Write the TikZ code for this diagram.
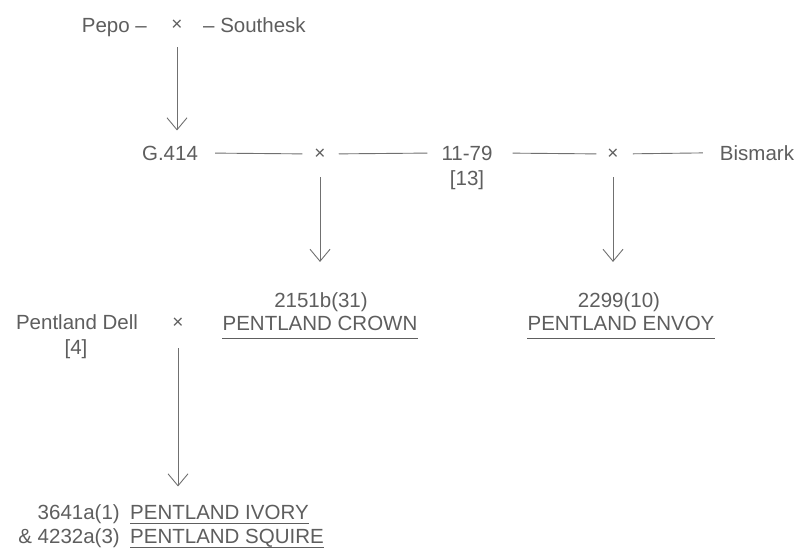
\documentclass[tikz,border=0pt]{standalone}
\usepackage{fontspec}
\setmainfont{Liberation Sans}
\usetikzlibrary{arrows.meta}
\definecolor{ink}{HTML}{5E5E5E}
\definecolor{rulec}{HTML}{707070}
\begin{document}
\begin{tikzpicture}[x=1pt,y=-1pt,
  lbl/.style={inner sep=0pt, text=ink, font=\fontsize{20.5}{24}\selectfont},
  cross/.style={inner sep=0pt, text=ink, font=\fontsize{19}{22}\selectfont},
  conn/.style={draw=rulec, line width=0.9pt},
  arr/.style={conn, -{Straight Barb[length=12pt,width=20pt,line width=0.9pt]}},
  uline/.style={draw=ink, line width=1pt}]
\useasboundingbox[fill=white] (0,0) rectangle (797,549);
% top cross
\node[lbl, anchor=base east] (pepo) at (147,32) {Pepo –};
\node[cross] (px) at (177,25) {×};
\node[lbl, anchor=base west] (south) at (203,32) {– Southesk};
% second row
\node[lbl, anchor=base] (g414) at (170,160) {G.414};
\node[cross] (x1) at (320,154) {×};
\node[lbl, anchor=base] (n1179) at (467,160) {11-79};
\node[lbl, anchor=base] (n13) at (467,185) {[13]};
\node[cross] (x2) at (613,154) {×};
\node[lbl, anchor=base] (bis) at (757,160) {Bismark};
% offspring
\node[lbl, anchor=base] (c1num) at (321,307) {2151b(31)};
\node[lbl, anchor=base] (crown) at (320,330) {PENTLAND CROWN};
\node[lbl, anchor=base] (c2num) at (619,307) {2299(10)};
\node[lbl, anchor=base] (envoy) at (621,330) {PENTLAND ENVOY};
% third cross
\node[lbl, anchor=base] (dell) at (77,329) {Pentland Dell};
\node[lbl, anchor=base] (n4) at (76,354) {[4]};
\node[cross] (dx) at (178,323) {×};
% bottom
\node[lbl, anchor=base east] (ivnum) at (120,519) {3641a(1)};
\node[lbl, anchor=base west] (ivory) at (130,519) {PENTLAND IVORY};
\node[lbl, anchor=base east] (sqnum) at (120,543) {\& 4232a(3)};
\node[lbl, anchor=base west] (squire) at (130,543) {PENTLAND SQUIRE};
% horizontal connectors
\draw[conn, shorten <=17pt, shorten >=12pt] (g414.east) -- (x1.west);
\draw[conn, shorten <=13pt, shorten >=14pt] (x1.east) -- (n1179.west);
\draw[conn, shorten <=20pt, shorten >=11pt] (n1179.east) -- (x2.west);
\draw[conn, shorten <=14pt, shorten >=17pt] (x2.east) -- (bis.west);
% arrows
\draw[arr, shorten <=17pt, shorten >=15pt] (px) -- (px |- g414.north);
\draw[arr, shorten <=18pt, shorten >=30pt] (x1) -- (x1 |- c1num.north);
\draw[arr, shorten <=18pt, shorten >=30pt] (x2) -- (x2 |- c2num.north);
\draw[arr, shorten <=20pt, shorten >=18pt] (dx) -- (dx |- ivory.north);
% underlines
\draw[uline] ([yshift=-8pt]crown.base west) -- ([yshift=-8pt]crown.base east);
\draw[uline] ([yshift=-8pt]envoy.base west) -- ([yshift=-8pt]envoy.base east);
\draw[uline] ([yshift=-4pt]ivory.base west) -- ([yshift=-4pt]ivory.base east);
\draw[uline] ([yshift=-4pt]squire.base west) -- ([yshift=-4pt]squire.base east);
\end{tikzpicture}
\end{document}
